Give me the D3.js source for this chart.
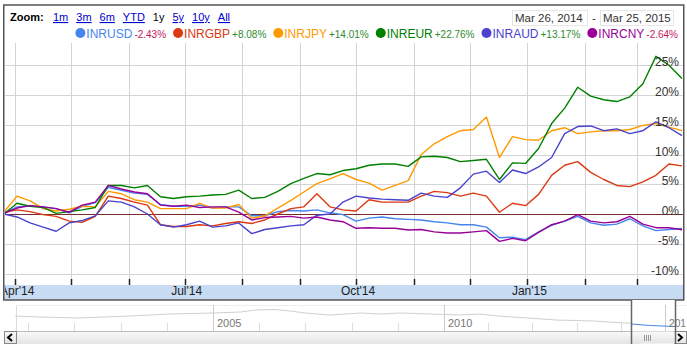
<!DOCTYPE html>
<html>
<head>
<meta charset="utf-8">
<script src="https://cdnjs.cloudflare.com/ajax/libs/d3/7.8.5/d3.min.js"></script>
<style>
  html, body { margin: 0; padding: 0; background: #fff; }
  svg { display: block; font-family: Arial, "Liberation Sans", sans-serif; }
</style>
</head>
<body>
<svg id="chart" width="687" height="344"></svg>
<script>
// range shown: Mar 26, 2014 - Mar 25, 2015, one point a week
const startDate = new Date(2014, 2, 26);
const endDate = new Date(2015, 2, 25);
const weeks = d3.range(53).map(i => d3.timeDay.offset(startDate, 7 * i));

const seriesNames = ['INRUSD', 'INRGBP', 'INRJPY', 'INREUR', 'INRAUD', 'INRCNY'];
const changeLabels = ['-2.43%', '+8.08%', '+14.01%', '+22.76%', '+13.17%', '-2.64%'];

// % change since start
const inrUsd = [0.1, 1.2, 1.4, 1.2, 0.9, 0.2, 1.3, 1.9, 4.5, 4.0, 3.5, 3.3, 1.6, 1.3, 1.3, 1.5, 1.0, 1.2, 1.2, -0.3,
  -0.3, 0.4, 0.6, 0.5, 0.7, 0.2, -0.1, -1.2, -0.7, -0.5, -0.8, -0.9, -1.0, -1.3, -1.5, -1.8, -1.8, -2.2, -4.0, -3.9,
  -4.3, -3.0, -1.9, -1.2, -0.4, -1.5, -1.9, -1.7, -0.8, -2.0, -2.8, -2.6, -2.43];
const inrGbp = [0.3, 0.7, 0.4, -0.1, -0.4, -1.2, -1.4, -0.4, 3.0, 2.6, 2.0, 1.5, -1.8, -2.1, -2.1, -1.8, -2.0, -1.6, -1.3, -1.6,
  -1.0, 0.0, 0.9, 1.2, 3.4, 1.2, 0.7, 0.5, 2.4, 2.0, 2.0, 2.0, 3.0, 3.8, 3.6, 3.0, 3.5, 3.0, 0.3, 1.8,
  1.4, 3.3, 6.5, 8.2, 8.8, 7.0, 5.8, 4.8, 4.6, 5.4, 6.5, 8.4, 8.08];
const inrJpy = [0.3, 3.0, 2.2, 0.9, 0.5, 0.8, 1.3, 1.2, 3.8, 3.4, 2.4, 2.0, 0.9, 0.9, 0.9, 1.8, 1.0, 1.0, 1.6, -0.7,
  -0.3, 1.0, 2.3, 3.7, 5.1, 5.9, 6.8, 5.8, 5.2, 4.0, 4.8, 5.6, 10.0, 11.8, 13.0, 14.0, 14.2, 16.3, 9.5, 13.0,
  12.5, 12.4, 14.0, 14.5, 13.5, 13.8, 14.0, 14.0, 14.2, 14.9, 15.2, 14.6, 14.01];
const inrEur = [0.0, 1.8, 1.3, 1.1, 0.1, 0.4, 0.7, 1.1, 4.8, 4.8, 4.4, 4.8, 2.9, 2.6, 2.9, 3.0, 3.2, 3.3, 4.0, 2.6,
  2.8, 3.8, 5.1, 6.0, 6.8, 6.6, 7.3, 7.6, 8.2, 8.4, 8.4, 8.0, 9.6, 9.7, 9.5, 8.8, 9.0, 9.2, 5.8, 8.6,
  8.5, 11.0, 15.2, 17.8, 21.3, 19.8, 19.2, 18.9, 19.7, 21.9, 26.5, 25.0, 22.76];
const inrAud = [0.0, -0.5, -1.5, -2.2, -2.9, -1.5, -1.1, -0.3, 2.2, 2.0, 1.2, 0.0, -1.8, -2.2, -1.8, -1.2, -2.2, -2.0, -1.5, -3.3,
  -2.6, -2.3, -2.0, -1.8, -0.2, 0.0, 2.0, 3.0, 2.7, 2.5, 2.4, 2.3, 3.5, 3.0, 2.8, 4.4, 6.7, 7.2, 5.3, 7.4,
  6.8, 7.9, 9.5, 13.5, 14.7, 14.8, 14.0, 14.3, 13.5, 14.0, 15.5, 14.5, 13.17];
const inrCny = [0.1, 1.0, 1.4, 1.2, 0.9, 0.3, 1.5, 2.0, 4.8, 4.2, 3.7, 3.4, 1.5, 1.3, 1.5, 1.1, 1.2, 1.2, 0.3, -1.0,
  -0.6, -0.5, -0.4, -0.7, -0.5, -1.0, -1.3, -2.4, -2.3, -2.4, -2.4, -2.7, -2.6, -3.0, -3.2, -3.2, -3.0, -2.8, -4.6, -4.1,
  -4.5, -3.1, -1.8, -1.2, -0.1, -1.2, -1.5, -1.3, -0.4, -1.7, -2.3, -2.3, -2.64];
const seriesValues = [inrUsd, inrGbp, inrJpy, inrEur, inrAud, inrCny];

const yTicks = [-10, -5, 0, 5, 10, 15, 20, 25];
const zoomLinks = ['1m', '3m', '6m', 'YTD', '1y', '5y', '10y', 'All'];
const rangeLabels = ['Mar 26, 2014', 'Mar 25, 2015'];

// long history shown in the navigator strip
const navDates = ['2000-09-20', '2001-03-28', '2002-02-10', '2003-03-15', '2004-01-25', '2005-01-01', '2005-08-05',
  '2005-12-01', '2006-05-08', '2006-09-01', '2007-01-01', '2007-07-15', '2007-11-15', '2008-03-15', '2008-08-15',
  '2009-01-25', '2009-09-20', '2010-05-15', '2010-10-20', '2011-03-28', '2011-11-20', '2012-07-15', '2013-05-30',
  '2014-01-25', '2014-03-26'];
const navValues = [14, 13, 12, 14, 16, 17, 18, 20, 20.5, 19, 17, 15, 16, 17, 16, 17, 16, 15, 16, 14, 12, 10, 9, 7, 7];
const navWindowDates = ['2014-03-26', '2014-09-01', '2015-03-25'];
const navWindowValues = [6, 4.5, 3.5];
const navYears = d3.range(2001, 2016);

const colors = ['#4684ee', '#dc3912', '#ff9900', '#008000', '#4942cc', '#990099'];

const svg = d3.select('#chart');
const frame = { left: 4, right: 684, top: 5, bottom: 300 };
const plot = { left: 4, right: 683, top: 43, bottom: 284 };

const x = d3.scaleTime().domain([startDate, endDate]).range([4, 682]);
const y = d3.scaleLinear().domain([-10, 25]).range([273.5, 65.25]);

function drawToolbar() {
  const g = svg.append('g');

  g.append('text')
      .attr('x', 10)
      .attr('y', 21)
      .attr('font-size', 11)
      .attr('font-weight', 'bold')
      .attr('fill', '#000')
      .text('Zoom:');

  let cursor = 53;
  zoomLinks.forEach(label => {
    const active = label === '1y';
    const t = g.append('text')
        .attr('x', cursor)
        .attr('y', 21)
        .attr('font-size', 11)
        .attr('fill', active ? '#000' : '#0000cc')
        .attr('text-decoration', active ? 'none' : 'underline')
        .text(label);
    cursor += t.node().getComputedTextLength() + 8;
  });

  const boxes = [[512, 587], [600, 673]];
  boxes.forEach(([x0, x1], i) => {
    g.append('rect')
        .attr('x', x0 + 0.5)
        .attr('y', 10.5)
        .attr('width', x1 - x0)
        .attr('height', 15)
        .attr('fill', '#fff')
        .attr('stroke', '#e6e6e6');
    g.append('text')
        .attr('x', x0 + 3)
        .attr('y', 22)
        .attr('font-size', 11.5)
        .attr('fill', '#333')
        .text(rangeLabels[i]);
  });

  g.append('text')
      .attr('x', 592)
      .attr('y', 22)
      .attr('font-size', 11.5)
      .attr('fill', '#333')
      .text('-');
}

function drawLegend() {
  const g = svg.append('g');
  let cursor = 0;

  seriesNames.forEach((name, i) => {
    g.append('circle')
        .attr('cx', cursor + 5)
        .attr('cy', 33)
        .attr('r', 5)
        .attr('fill', colors[i]);

    const label = g.append('text')
        .attr('x', cursor + 11)
        .attr('y', 38)
        .attr('font-size', 12)
        .attr('fill', colors[i])
        .text(name);
    cursor += 11 + label.node().getComputedTextLength() + 2;

    const change = g.append('text')
        .attr('x', cursor)
        .attr('y', 38)
        .attr('font-size', 10)
        .attr('fill', changeLabels[i].startsWith('-') ? '#c4195a' : '#2e8b2e')
        .text(changeLabels[i]);
    cursor += change.node().getComputedTextLength() + (i < seriesNames.length - 1 ? 7 : 0);
  });

  // right-align the row against the date boxes
  g.attr('transform', `translate(${678 - cursor},0)`);
}

function drawPlot() {
  const defs = svg.append('defs');
  defs.append('clipPath')
      .attr('id', 'plot-clip')
    .append('rect')
      .attr('x', plot.left + 1)
      .attr('y', plot.top)
      .attr('width', plot.right - plot.left - 1)
      .attr('height', plot.bottom - plot.top);
  defs.append('clipPath')
      .attr('id', 'band-clip')
    .append('rect')
      .attr('x', plot.left + 1)
      .attr('y', plot.bottom)
      .attr('width', plot.right - plot.left)
      .attr('height', 20);

  const g = svg.append('g').attr('clip-path', 'url(#plot-clip)');
  const months = d3.timeMonth.range(d3.timeMonth.ceil(startDate), endDate);

  g.append('g')
    .selectAll('line')
    .data(yTicks)
    .join('line')
      .attr('x1', plot.left)
      .attr('x2', plot.right)
      .attr('y1', d => Math.round(y(d)) + 0.5)
      .attr('y2', d => Math.round(y(d)) + 0.5)
      .attr('stroke', d => d === 0 ? 'none' : '#d4d4d4');

  g.append('g')
    .selectAll('line')
    .data(months)
    .join('line')
      .attr('x1', d => Math.round(x(d)) + 0.5)
      .attr('x2', d => Math.round(x(d)) + 0.5)
      .attr('y1', plot.top)
      .attr('y2', plot.bottom)
      .attr('stroke', '#d4d4d4');

  g.append('line')
      .attr('x1', plot.left)
      .attr('x2', plot.right)
      .attr('y1', Math.round(y(0)) + 0.5)
      .attr('y2', Math.round(y(0)) + 0.5)
      .attr('stroke', '#7a2b2b')
      .attr('stroke-width', 1.2);

  const line = d3.line()
      .x((d, i) => x(weeks[i]))
      .y(d => y(d));

  g.append('g')
    .selectAll('path')
    .data(seriesValues)
    .join('path')
      .attr('fill', 'none')
      .attr('stroke', (d, i) => colors[i])
      .attr('stroke-width', 1.4)
      .attr('stroke-linejoin', 'round')
      .attr('d', line);

  g.append('g')
    .selectAll('text')
    .data(yTicks)
    .join('text')
      .attr('x', 679)
      .attr('y', d => y(d) + 1)
      .attr('text-anchor', 'end')
      .attr('font-size', 12)
      .attr('fill', '#333')
      .text(d => `${d}%`);

  // month ticks and the blue label band
  svg.append('rect')
      .attr('x', plot.left)
      .attr('y', plot.bottom + 1)
      .attr('width', plot.right - plot.left)
      .attr('height', frame.bottom - plot.bottom - 1)
      .attr('fill', '#c7dbf3');

  svg.append('g')
    .selectAll('line')
    .data(months)
    .join('line')
      .attr('x1', d => Math.round(x(d)) + 0.5)
      .attr('x2', d => Math.round(x(d)) + 0.5)
      .attr('y1', plot.bottom - 5)
      .attr('y2', plot.bottom + 1)
      .attr('stroke', '#222')
      .attr('stroke-width', 1.5);

  svg.append('g')
      .attr('clip-path', 'url(#band-clip)')
    .selectAll('text')
    .data(months.filter(d => d.getMonth() % 3 === 0))
    .join('text')
      .attr('x', d => x(d) + 2)
      .attr('y', 295)
      .attr('text-anchor', 'middle')
      .attr('font-size', 12)
      .attr('fill', '#222')
      .text(d3.timeFormat("%b'%y"));

  svg.append('rect')
      .attr('x', frame.left - 0.25)
      .attr('y', frame.top)
      .attr('width', frame.right - frame.left)
      .attr('height', frame.bottom - frame.top)
      .attr('fill', 'none')
      .attr('stroke', '#555')
      .attr('stroke-width', 1.5);
}

function drawNavigator() {
  const parse = d3.timeParse('%Y-%m-%d');
  const navX = d3.scaleTime()
      .domain([new Date(2005, 0, 1), new Date(2010, 0, 1), new Date(2015, 0, 1)])
      .range([213, 444, 665]);
  const navY = d3.scaleLinear().domain([0, 25]).range([330, 305]);
  const g = svg.append('g');

  g.append('line')
      .attr('x1', 16.5).attr('x2', 16.5)
      .attr('y1', 305).attr('y2', 331)
      .attr('stroke', '#ddd');
  g.append('line')
      .attr('x1', 16).attr('x2', 687)
      .attr('y1', 305.5).attr('y2', 305.5)
      .attr('stroke', '#eee');

  g.append('g')
    .selectAll('line')
    .data(navYears)
    .join('line')
      .attr('x1', d => Math.round(navX(new Date(d, 0, 1))) + 0.5)
      .attr('x2', d => Math.round(navX(new Date(d, 0, 1))) + 0.5)
      .attr('y1', d => d % 5 === 0 ? 305 : 323)
      .attr('y2', 331)
      .attr('stroke', d => d % 5 === 0 ? '#ccc' : '#ddd');

  g.append('g')
    .selectAll('text')
    .data(navYears.filter(d => d % 5 === 0 && d < 2015))
    .join('text')
      .attr('x', d => navX(new Date(d, 0, 1)) + 4)
      .attr('y', 327)
      .attr('font-size', 11)
      .attr('fill', '#777')
      .text(d => d);

  const navLine = d3.line()
      .x(d => navX(parse(d[0])))
      .y(d => navY(d[1]));

  g.append('path')
      .datum(d3.zip(navDates, navValues))
      .attr('fill', 'none')
      .attr('stroke', '#d0d0d0')
      .attr('stroke-width', 1)
      .attr('d', navLine);

  // scrollbar
  const barGrad = svg.select('defs').append('linearGradient')
      .attr('id', 'bar-grad')
      .attr('x1', 0).attr('x2', 0).attr('y1', 0).attr('y2', 1);
  barGrad.append('stop').attr('offset', 0).attr('stop-color', '#fafafa');
  barGrad.append('stop').attr('offset', 1).attr('stop-color', '#e4e4e4');

  g.append('rect')
      .attr('x', 16).attr('y', 331)
      .attr('width', 623).attr('height', 13)
      .attr('fill', 'url(#bar-grad)');
  g.append('line')
      .attr('x1', 4).attr('x2', 687)
      .attr('y1', 331.5).attr('y2', 331.5)
      .attr('stroke', '#bbb');

  [[4, 16, 'M12,334 L8,337.5 L12,341'], [674, 686, 'M678,334 L682,337.5 L678,341']].forEach(([x0, x1, p]) => {
    g.append('rect')
        .attr('x', x0 + 0.5).attr('y', 331.5)
        .attr('width', x1 - x0).attr('height', 12)
        .attr('fill', 'url(#bar-grad)')
        .attr('stroke', '#888');
    g.append('path')
        .attr('d', p)
        .attr('fill', 'none')
        .attr('stroke', '#000')
        .attr('stroke-width', 2);
  });

  // selected window
  const w0 = Math.round(navX(startDate)) + 0.5;
  const w1 = Math.round(navX(endDate)) + 0.5;
  g.append('rect')
      .attr('x', w0).attr('y', 300)
      .attr('width', w1 - w0).attr('height', 31)
      .attr('fill', '#fff');
  g.append('line')
      .attr('x1', Math.round(navX(new Date(2015, 0, 1))) + 0.5)
      .attr('x2', Math.round(navX(new Date(2015, 0, 1))) + 0.5)
      .attr('y1', 305).attr('y2', 331)
      .attr('stroke', '#ccc');
  g.append('path')
      .datum(d3.zip(navWindowDates, navWindowValues))
      .attr('fill', 'none')
      .attr('stroke', '#4684ee')
      .attr('stroke-width', 1)
      .attr('d', navLine);
  // the 2015 label runs past the chart's right edge, as in the original
  g.append('text')
      .attr('x', navX(new Date(2015, 0, 1)) + 4)
      .attr('y', 327)
      .attr('font-size', 11)
      .attr('fill', '#777')
      .attr('textLength', 17)
      .attr('lengthAdjust', 'spacingAndGlyphs')
      .text('201');
  g.append('rect')
      .attr('x', w0).attr('y', 331.5)
      .attr('width', w1 - w0).attr('height', 12)
      .attr('fill', 'url(#bar-grad)');
  g.append('path')
      .attr('d', `M${w0},300 V344 M${w1},300 V344`)
      .attr('stroke', '#666')
      .attr('stroke-width', 1.5);
  g.append('g')
    .selectAll('line')
    .data([0, 2, 4, 6])
    .join('line')
      .attr('x1', d => w0 + 13 + d)
      .attr('x2', d => w0 + 13 + d)
      .attr('y1', 335).attr('y2', 341)
      .attr('stroke', '#999');
}

drawToolbar();
drawLegend();
drawPlot();
drawNavigator();
</script>
</body>
</html>
